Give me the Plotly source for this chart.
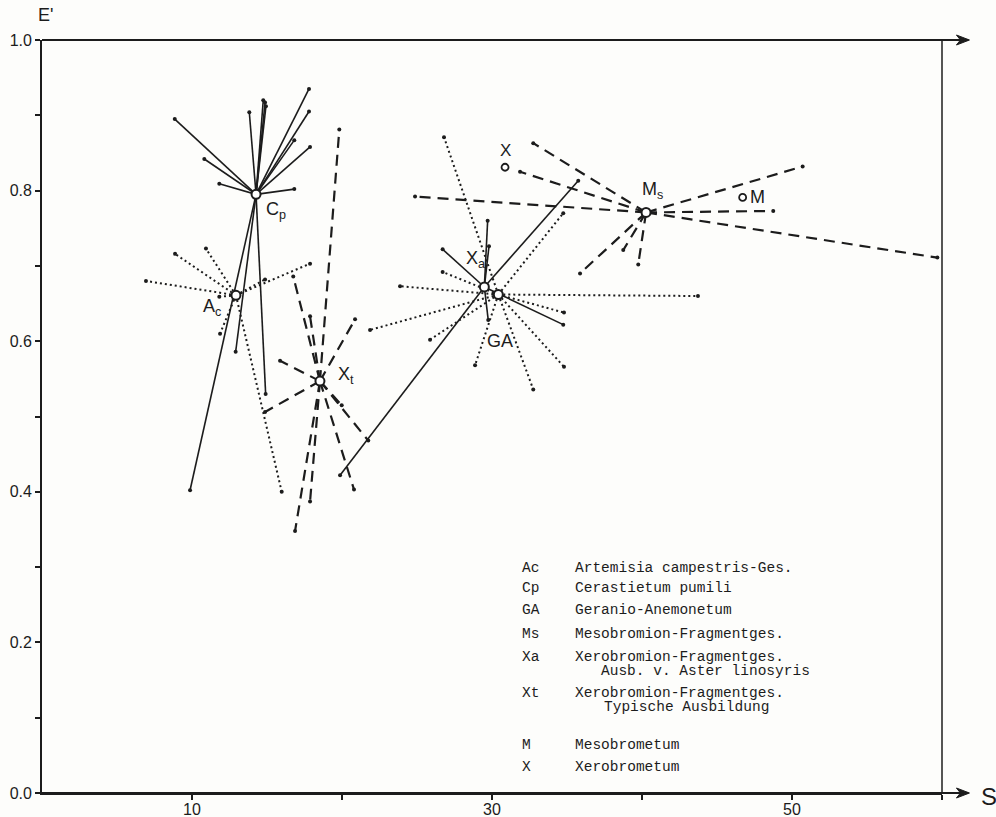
import plotly.graph_objects as go

# ---------------- data ----------------
# group centroids (S, E')
cp_center = (14.27, 0.795)
ac_center = (12.93, 0.661)
xt_center = (18.53, 0.547)
xa_center = (29.49, 0.672)
ga_center = (30.42, 0.662)
ms_center = (40.27, 0.771)

# individual releves of each group
cp_x = [8.85, 10.82, 11.82, 13.82, 14.75, 14.87, 14.93, 17.80, 17.80, 16.82, 17.87, 16.82, 9.87, 12.91, 14.91]
cp_y = [0.895, 0.842, 0.809, 0.904, 0.920, 0.917, 0.912, 0.935, 0.905, 0.867, 0.858, 0.802, 0.402, 0.586, 0.530]

ac_x = [6.93, 8.87, 10.93, 11.82, 11.87, 17.87, 14.87, 15.98]
ac_y = [0.680, 0.716, 0.723, 0.659, 0.610, 0.703, 0.682, 0.400]

xt_x = [19.82, 16.75, 17.87, 20.87, 15.87, 14.87, 19.98, 21.75, 20.80, 17.87, 16.87]
xt_y = [0.881, 0.686, 0.633, 0.629, 0.574, 0.506, 0.515, 0.468, 0.403, 0.387, 0.348]

xa_x = [26.71, 29.71, 29.80, 35.75, 34.75, 29.75, 19.87]
xa_y = [0.722, 0.760, 0.726, 0.813, 0.622, 0.628, 0.422]

ga_x = [26.80, 34.75, 23.87, 26.71, 21.87, 25.87, 28.87, 32.75, 34.80, 34.80, 43.73]
ga_y = [0.871, 0.770, 0.673, 0.692, 0.615, 0.602, 0.568, 0.536, 0.566, 0.638, 0.660]

ms_x = [32.75, 31.87, 24.87, 35.87, 38.75, 39.75, 48.75, 50.71, 59.69]
ms_y = [0.863, 0.825, 0.792, 0.690, 0.721, 0.702, 0.773, 0.832, 0.711]

# reference associations
ref_names = ["X", "M"]
ref_x = [30.87, 46.71]
ref_y = [0.831, 0.791]

# axis ticks
x_tickvals = [10, 20, 30, 40, 50, 60]
x_ticktext = ["10", "", "30", "", "50", ""]
y_tickvals = [0.0, 0.1, 0.2, 0.3, 0.4, 0.5, 0.6, 0.7, 0.8, 0.9, 1.0]
y_ticktext = ["0.0", "", "0.2", "", "0.4", "", "0.6", "", "0.8", "", "1.0"]

# legend
legend_codes = ["Ac", "Cp", "GA", "Ms", "Xa", "Xt", "M", "X"]
legend_desc = ["Artemisia campestris-Ges.", "Cerastietum pumili", "Geranio-Anemonetum",
               "Mesobromion-Fragmentges.", "Xerobromion-Fragmentges.",
               "Xerobromion-Fragmentges.", "Mesobrometum", "Xerobrometum"]
legend_sub = {"Xa": "Ausb. v. Aster linosyris", "Xt": "Typische Ausbildung"}

# ---------------- figure ----------------
INK = "#1c1c1c"
SANS = "Liberation Sans, Arial, Helvetica, sans-serif"
MONO = "Courier New, Liberation Mono, monospace"

styles = {
    "solid": dict(color=INK, width=1.6),
    "dot": dict(color=INK, width=2.0, dash="2px,3px"),
    "dash": dict(color=INK, width=2.2, dash="11px,7px"),
}

groups = [
    ("Cp", cp_center, cp_x, cp_y, "solid"),
    ("Ac", ac_center, ac_x, ac_y, "dot"),
    ("Xt", xt_center, xt_x, xt_y, "dash"),
    ("GA", ga_center, ga_x, ga_y, "dot"),
    ("Xa", xa_center, xa_x, xa_y, "solid"),
    ("Ms", ms_center, ms_x, ms_y, "dash"),
]

fig = go.Figure()

for name, (cx, cy), xs, ys, st in groups:
    lx, ly = [], []
    for ex, ey in zip(xs, ys):
        lx += [cx, ex, None]
        ly += [cy, ey, None]
    fig.add_trace(go.Scatter(x=lx, y=ly, mode="lines", line=styles[st],
                             hoverinfo="skip", showlegend=False))
    fig.add_trace(go.Scatter(x=xs, y=ys, mode="markers",
                             marker=dict(size=4, color=INK),
                             hoverinfo="skip", showlegend=False))

# centroids
fig.add_trace(go.Scatter(
    x=[g[1][0] for g in groups], y=[g[1][1] for g in groups], mode="markers",
    marker=dict(size=9, color="white", line=dict(color=INK, width=2)),
    showlegend=False, hoverinfo="skip"))
# reference points
fig.add_trace(go.Scatter(
    x=ref_x, y=ref_y, mode="markers",
    marker=dict(size=7, color="white", line=dict(color=INK, width=1.8)),
    showlegend=False, hoverinfo="skip"))

annotations = []
# group labels
label_pos = {
    "Cp": (15.6, 0.774, "C<sub>p</sub>"),
    "Ac": (11.33, 0.645, "A<sub>c</sub>"),
    "Xt": (20.25, 0.554, "X<sub>t</sub>"),
    "Xa": (28.87, 0.708, "X<sub>a</sub>"),
    "GA": (30.53, 0.600, "GA"),
    "Ms": (40.73, 0.800, "M<sub>s</sub>"),
}
for k, (x, y, t) in label_pos.items():
    annotations.append(dict(x=x, y=y, xref="x", yref="y", text=t, showarrow=False,
                            font=dict(family=SANS, size=18, color=INK)))
annotations.append(dict(x=ref_x[0], y=ref_y[0] + 0.022, xref="x", yref="y", text=ref_names[0],
                        showarrow=False, font=dict(family=SANS, size=17, color=INK)))
annotations.append(dict(x=ref_x[1] + 0.35, y=ref_y[1], xref="x", yref="y", text=ref_names[1],
                        showarrow=False, xanchor="left", font=dict(family=SANS, size=18, color=INK)))

# legend block (typewriter)
leg_rows_y = [0.299, 0.272, 0.243, 0.211, 0.181, 0.133, 0.064, 0.035]
sub_dy = 0.0185
for code, desc, yy in zip(legend_codes, legend_desc, leg_rows_y):
    annotations.append(dict(x=31.85, y=yy, xref="x", yref="y", text=code, showarrow=False,
                            xanchor="left", font=dict(family=MONO, size=14.5, color=INK)))
    annotations.append(dict(x=35.4, y=yy, xref="x", yref="y", text=desc, showarrow=False,
                            xanchor="left", font=dict(family=MONO, size=14.5, color=INK)))
    if code in legend_sub:
        xs_ = 37.1 if code == "Xa" else 37.35
        annotations.append(dict(x=xs_, y=yy - sub_dy, xref="x", yref="y", text=legend_sub[code],
                                showarrow=False, xanchor="left",
                                font=dict(family=MONO, size=14.5, color=INK)))

# axis titles
annotations.append(dict(x=-0.007, y=1.0175, xref="paper", yref="paper", text="E'", showarrow=False,
                        xanchor="left", yanchor="bottom",
                        font=dict(family=SANS, size=18, color=INK)))
annotations.append(dict(x=1.052, y=-0.005, xref="paper", yref="paper", text="S", showarrow=False,
                        xanchor="center", yanchor="middle",
                        font=dict(family=SANS, size=24, color=INK)))

W, H = 900.0, 753.0
shapes = []
# top line, bottom extension and right border
shapes.append(dict(type="line", xref="paper", yref="paper", x0=0, y0=1, x1=1.029, y1=1,
                   line=dict(color=INK, width=1.8)))
shapes.append(dict(type="line", xref="paper", yref="paper", x0=0, y0=0, x1=1.029, y1=0,
                   line=dict(color=INK, width=1.8)))
shapes.append(dict(type="line", xref="paper", yref="paper", x0=1.0, y0=0, x1=1.0, y1=1,
                   line=dict(color=INK, width=1.5)))
for yy in (0.0, 1.0):
    xt = 1.0305
    p = (f"M {xt - 13/W},{yy + 5/H} L {xt},{yy} L {xt - 13/W},{yy - 5/H} "
         f"L {xt - 9/W},{yy} Z")
    shapes.append(dict(type="path", xref="paper", yref="paper", path=p,
                       fillcolor=INK, line=dict(color=INK, width=1)))

fig.update_layout(
    width=996, height=817,
    margin=dict(l=42, r=54, t=40, b=24, autoexpand=False),
    paper_bgcolor="#fdfdfb", plot_bgcolor="#fdfdfb",
    showlegend=False,
    annotations=annotations, shapes=shapes,
    xaxis=dict(range=[0, 60], showgrid=False, zeroline=False, showline=True, automargin=False,
               linecolor=INK, linewidth=1.8, ticks="outside", ticklen=5, tickwidth=1.5,
               tickcolor=INK, tickvals=x_tickvals, ticktext=x_ticktext, ticklabelstandoff=-4,
               tickfont=dict(family=SANS, size=16, color=INK)),
    yaxis=dict(range=[0, 1], showgrid=False, zeroline=False, showline=True, automargin=False,
               linecolor=INK, linewidth=1.8, ticks="outside", ticklen=5, tickwidth=1.5,
               tickcolor=INK, tickvals=y_tickvals, ticktext=y_ticktext,
               tickfont=dict(family=SANS, size=16, color=INK)),
)

fig.write_html("out.html", config={"displayModeBar": False},
               post_script="document.body.style.margin='0';document.body.style.overflow='hidden';")
